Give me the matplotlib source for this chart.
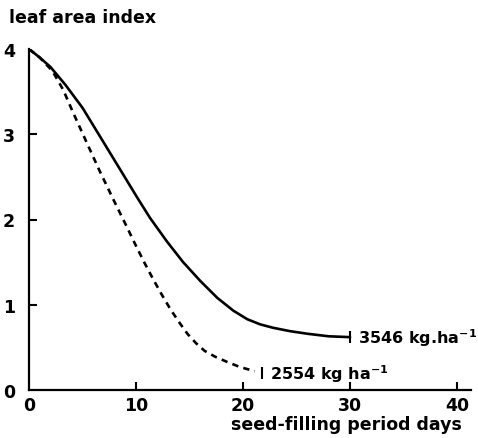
import matplotlib
matplotlib.use("Agg")
import matplotlib.pyplot as plt

# values
days_high = [0, 1.0, 2.0, 3.4, 5.0, 6.8, 8.5, 10.1, 11.3, 12.9, 14.4, 16.0, 17.6, 19.1,
             20.4, 21.6, 22.8, 24.4, 26.0, 28.0, 30.0]
lai_high = [4.0, 3.9, 3.79, 3.58, 3.31, 2.94, 2.59, 2.26, 2.02, 1.74, 1.50, 1.28, 1.08, 0.93,
            0.83, 0.77, 0.73, 0.69, 0.66, 0.63, 0.62]

days_low = [0, 1.0, 2.2, 3.2, 4.1, 5.4, 6.6, 7.9, 9.0, 10.0, 10.8, 11.6, 12.4, 13.2,
            14.0, 14.8, 15.6, 16.4, 17.4, 18.5, 19.7, 21.1, 21.8]
lai_low = [4.0, 3.9, 3.74, 3.52, 3.26, 2.90, 2.57, 2.23, 1.95, 1.69, 1.49, 1.30, 1.12, 0.95,
           0.80, 0.66, 0.55, 0.46, 0.39, 0.33, 0.27, 0.22, 0.20]

label_high = "3546 kg.ha$^{\\mathbf{-1}}$"
label_low = "2554 kg ha$^{\\mathbf{-1}}$"

x_ticks = [0, 10, 20, 30, 40]
y_ticks = [0, 1, 2, 3, 4]

plt.rcParams["font.family"] = ["DejaVu Sans"]
plt.rcParams["mathtext.default"] = "bf"

fig = plt.figure(figsize=(4.78, 4.39), dpi=100)
ax = fig.add_axes([29 / 478, 48 / 439, 442 / 478, 341 / 439])

ax.plot(days_high, lai_high, color="black", lw=1.9, solid_capstyle="round",
        solid_joinstyle="round")
ax.plot(days_high[-1], lai_high[-1], marker="|", ms=9, mew=1.5, color="black")
ax.plot(days_low[:-1], lai_low[:-1], color="black", lw=1.9, dashes=(2.4, 2.0))
ax.plot(days_low[-1], lai_low[-1], marker="|", ms=9, mew=1.5, color="black")

ax.text(30.7, lai_high[-1], label_high, fontsize=11.5, fontweight="bold",
        va="center", ha="left")
ax.text(22.5, lai_low[-1], label_low, fontsize=11.5, fontweight="bold",
        va="center", ha="left")

ax.set_xlim(0, 41.3)
ax.set_ylim(0, 4)
ax.set_xticks(x_ticks)
ax.set_yticks(y_ticks)
ax.tick_params(direction="in", length=6, width=1.5, labelsize=12.5, pad=4)
ax.tick_params(axis="y", pad=10)
for lab in ax.get_xticklabels() + ax.get_yticklabels():
    lab.set_fontweight("bold")
ax.xaxis.get_major_ticks()[0].tick1line.set_visible(False)
ax.yaxis.get_major_ticks()[0].tick1line.set_visible(False)
ax.yaxis.get_major_ticks()[-1].tick1line.set_visible(False)

for side in ("top", "right"):
    ax.spines[side].set_visible(False)
for side in ("left", "bottom"):
    ax.spines[side].set_linewidth(1.6)

fig.text(9 / 478, 1 - 18 / 439, "leaf area index", fontsize=12.5, fontweight="bold",
         ha="left", va="center")
fig.text(462 / 478, 1 - 425 / 439, "seed-filling period days", fontsize=12.5,
         fontweight="bold", ha="right", va="center")

fig.savefig("out.png", dpi=100)
